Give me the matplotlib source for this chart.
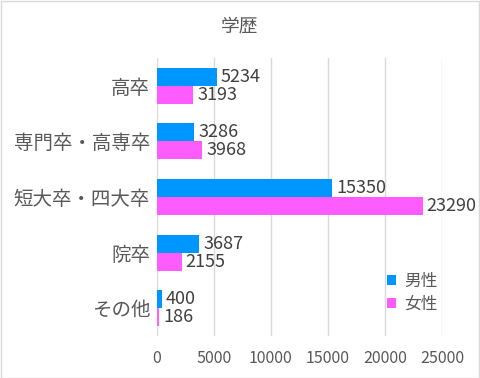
import matplotlib
matplotlib.use("Agg")
import matplotlib.pyplot as plt
import numpy as np
from matplotlib.patches import Rectangle

plt.rcParams["font.family"] = ["Noto Sans CJK JP", "DejaVu Sans"]

categories = ["高卒", "専門卒・高専卒", "短大卒・四大卒", "院卒", "その他"]
male = [5234, 3286, 15350, 3687, 400]
female = [3193, 3968, 23290, 2155, 186]
series_names = ["男性", "女性"]
x_ticks = [0, 5000, 10000, 15000, 20000, 25000]

male_color = "#0096FF"
female_color = "#FF5CFF"
text_color = "#595959"

fig = plt.figure(figsize=(4.8, 3.78), dpi=100)
ax = fig.add_axes([157 / 480, 1 - 336 / 378, (442 - 157) / 480, (336 - 58) / 378])

y = np.arange(len(categories))
h = 0.325
ax.barh(y - h / 2, male, height=h, color=male_color, label=series_names[0], zorder=3)
ax.barh(y + h / 2, female, height=h, color=female_color, label=series_names[1], zorder=3)

for i in range(len(categories)):
    ax.annotate(str(male[i]), (male[i], y[i] - h / 2), xytext=(3, 0), textcoords="offset points",
                va="center", ha="left", fontsize=13, color="#404040")
    ax.annotate(str(female[i]), (female[i], y[i] + h / 2), xytext=(3, 0), textcoords="offset points",
                va="center", ha="left", fontsize=13, color="#404040")

ax.set_xlim(0, 25000)
ax.set_ylim(len(categories) - 0.5, -0.5)
ax.set_xticks(x_ticks)
ax.set_xticklabels([str(t) for t in x_ticks])
ax.set_yticks(y)
ax.set_yticklabels(categories)
ax.tick_params(axis="both", length=0, colors=text_color)
ax.tick_params(axis="x", pad=10, labelsize=11.5)
ax.tick_params(axis="y", pad=5, labelsize=14)
ax.xaxis.grid(True, color="#D9D9D9", linewidth=1, zorder=0)
for s in ax.spines.values():
    s.set_visible(False)

fig.text(0.5, 1 - 26 / 378, "学歴", ha="center", va="center", fontsize=13.5, color=text_color)

leg = ax.legend(loc="upper left", bbox_to_anchor=(372 / 480, 1 - 258 / 378), bbox_transform=fig.transFigure,
                frameon=False, fontsize=12, handlelength=0.55, handleheight=0.55, handletextpad=0.5,
                labelspacing=0.35, labelcolor=text_color)

fig.patches.append(Rectangle((0.5 / 480, 0.5 / 378), 1 - 1.5 / 480, 1 - 1.5 / 378, transform=fig.transFigure,
                             fill=False, edgecolor="#D9D9D9", linewidth=1))

fig.savefig("out.png", dpi=100)
